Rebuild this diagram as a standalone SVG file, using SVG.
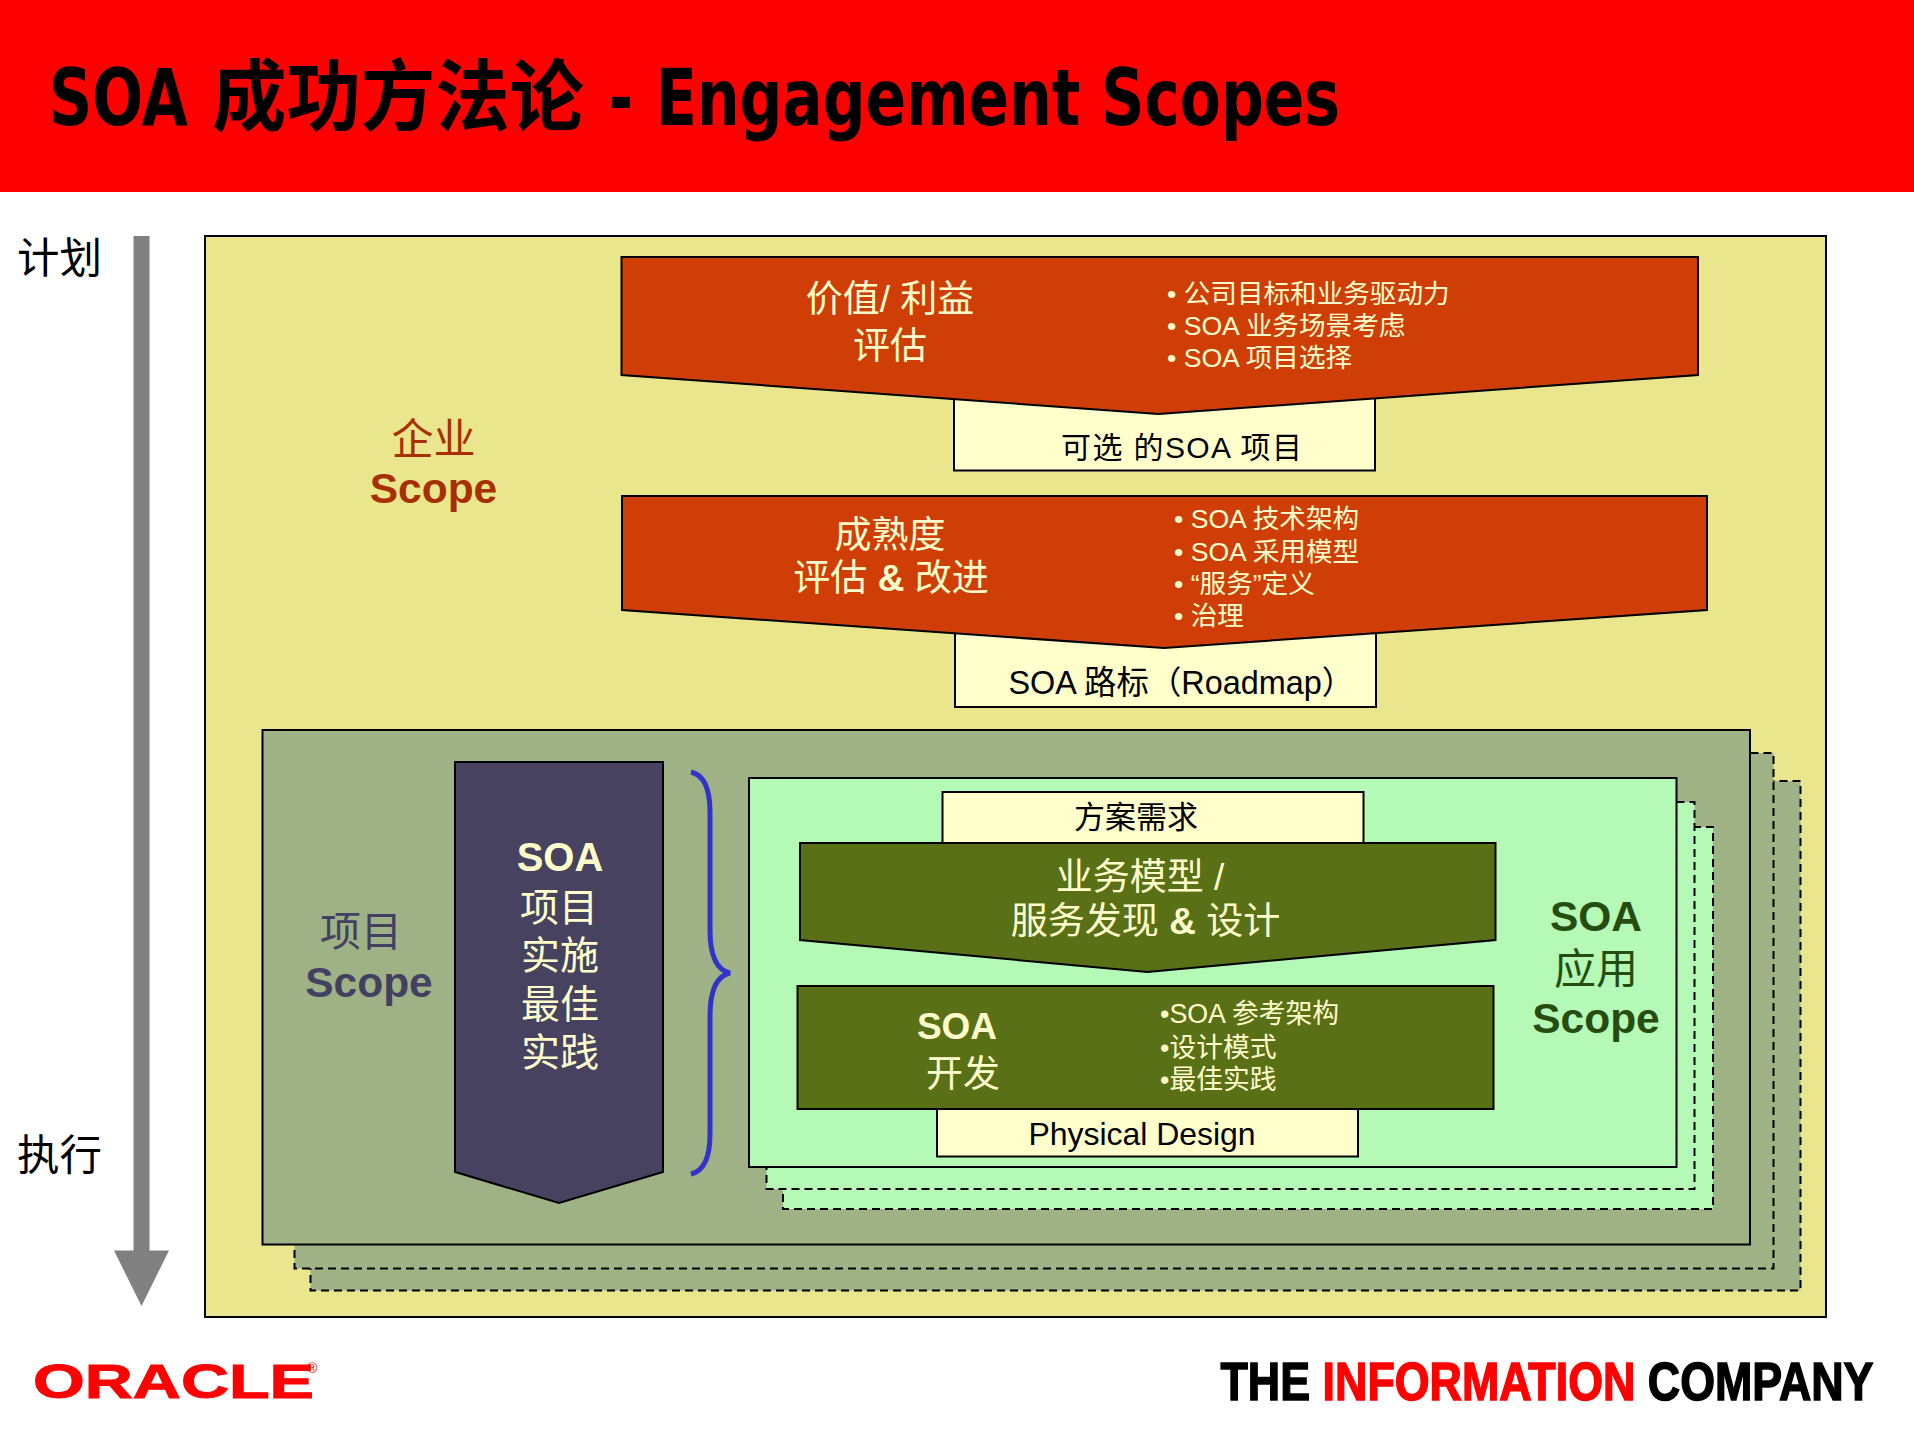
<svg xmlns="http://www.w3.org/2000/svg" width="1914" height="1431" viewBox="0 0 1914 1431">
<style>
text{font-family:"Liberation Sans","Noto Sans CJK SC",sans-serif;white-space:pre}
.s{stroke:#000;stroke-width:2;stroke-linejoin:miter}
.d{stroke:#000;stroke-width:2;stroke-dasharray:8 5}
.c{text-anchor:middle}
.b{font-weight:bold}
.ye{fill:#e9e68d}.or{fill:#d03e08}.pale{fill:#ffffcc}.gr{fill:#9eb285}.lg{fill:#b4f9b6}.nv{fill:#464260}.ol{fill:#5a7017}
.tp{fill:#ffffcc}
.tb{fill:#000}
</style>
<rect id="title-band" x="0" y="0" width="1914" height="192" fill="#ff0000"/>
<g id="title"><text y="125" font-size="78" font-weight="bold" style="font-family:'DejaVu Sans','Noto Sans CJK SC',sans-serif"><tspan x="49" textLength="139" lengthAdjust="spacingAndGlyphs">SOA</tspan> <tspan x="212" textLength="372" lengthAdjust="spacingAndGlyphs">成功方法论</tspan> <tspan x="609" textLength="24" lengthAdjust="spacingAndGlyphs">-</tspan> <tspan x="656" textLength="684" lengthAdjust="spacingAndGlyphs">Engagement Scopes</tspan></text></g>

<g id="axis">
<path d="M133.500 236H149.500V1250.500H169L141.500 1306L114 1250.500H133.500Z" fill="#808080"/>
<text x="17" y="273" font-size="42.500">计划</text>
<text x="17" y="1170" font-size="42.500">执行</text>
</g>

<g id="enterprise-scope">
<rect x="205" y="236" width="1621" height="1081" class="ye s"/>
<text x="433.500" y="454" font-size="42" class="c" fill="#a83000">企业</text>
<text x="433.500" y="503" font-size="42.500" class="c b" fill="#a83000">Scope</text>
</g>

<g id="optional-projects">
<rect x="954" y="380" width="421" height="90.500" class="pale s"/>
<text x="1061" y="458" font-size="30" textLength="241" class="tb">可选 的SOA 项目</text>
</g>
<g id="value-assessment">
<path d="M621.500 257H1698V375L1158.500 414L621.500 375Z" class="or s"/>
<text x="890" y="312" font-size="37" class="c tp">价值/ 利益</text>
<text x="890" y="359" font-size="37" class="c tp">评估</text>
<text x="1167" y="303" font-size="26.600" class="tp">• 公司目标和业务驱动力</text>
<text x="1167" y="335" font-size="26.600" class="tp">• SOA 业务场景考虑</text>
<text x="1167" y="367" font-size="26.600" class="tp">• SOA 项目选择</text>
</g>

<g id="roadmap">
<rect x="955" y="620" width="421" height="87" class="pale s"/>
<text x="1008.500" y="694" font-size="32.400" class="tb">SOA 路标（Roadmap）</text>
</g>
<g id="maturity-assessment">
<path d="M622 496H1707V610L1164 648L622 610Z" class="or s"/>
<text x="890" y="548" font-size="37" class="c tp">成熟度</text>
<text x="891" y="591" font-size="37" class="c tp">评估 <tspan class="b">&amp;</tspan> 改进</text>
<text x="1174" y="528" font-size="26.600" class="tp">• SOA 技术架构</text>
<text x="1174" y="561" font-size="26.600" class="tp">• SOA 采用模型</text>
<text x="1174" y="593" font-size="26.600" class="tp">• “服务”定义</text>
<text x="1174" y="625" font-size="26.600" class="tp">• 治理</text>
</g>

<g id="project-scope">
<path d="M310.500 781H1800.500V1290.500H310.500Z" class="gr d"/>
<path d="M294.500 753H1773.500V1268.500H294.500Z" class="gr d"/>
<rect x="262.500" y="730" width="1487.500" height="514.500" class="gr s"/>
<text x="361" y="946" font-size="41" class="c" fill="#444062">项目</text>
<text x="369" y="997" font-size="42.500" class="c b" fill="#444062">Scope</text>
</g>

<g id="best-practices">
<path d="M455 762H663V1172L559 1203L455 1172Z" class="nv s"/>
<text x="560" y="871" font-size="40" class="c b tp">SOA</text>
<text x="559" y="921" font-size="39" class="c tp">项目</text>
<text x="560" y="969" font-size="39" class="c tp">实施</text>
<text x="560" y="1018" font-size="39" class="c tp">最佳</text>
<text x="560" y="1066" font-size="39" class="c tp">实践</text>
</g>

<g id="connectors">
<path d="M691 772C704 775 710 788 710 812V930C710 955 716 970 730 973C716 976 710 991 710 1016V1134C710 1158 704 1171 691 1174" fill="none" stroke="#3333cc" stroke-width="5"/>
</g>

<g id="application-scope">
<path d="M783 827H1713V1209H783Z" class="lg d"/>
<path d="M766.500 802H1694.500V1189H766.500Z" class="lg d"/>
<rect x="749" y="778" width="927.500" height="389" class="lg s"/>
<text x="1596" y="931" font-size="42.500" class="c b" fill="#264d0f">SOA</text>
<text x="1596" y="984" font-size="42" class="c" fill="#264d0f">应用</text>
<text x="1596" y="1032.500" font-size="42.500" class="c b" fill="#264d0f">Scope</text>
</g>

<g id="solution-requirements">
<rect x="942.500" y="792" width="421" height="60" class="pale s"/>
<text x="1136" y="828" font-size="31" class="c tb">方案需求</text>
</g>
<g id="business-modeling">
<path d="M800 843H1495.500V940L1147.500 972L800 940Z" class="ol s"/>
<text x="1140" y="890" font-size="37" class="c tp">业务模型 /</text>
<text x="1145.500" y="934" font-size="37" class="c tp">服务发现 <tspan class="b">&amp;</tspan> 设计</text>
</g>
<g id="physical-design">
<rect x="937" y="1100" width="421" height="56.500" class="pale s"/>
<text x="1028.500" y="1145" font-size="32" textLength="227" class="tb">Physical Design</text>
</g>
<g id="soa-development">
<rect x="797.500" y="986" width="696" height="123" class="ol s"/>
<text x="957" y="1039" font-size="37" class="c b tp">SOA</text>
<text x="963" y="1087" font-size="37" class="c tp">开发</text>
<text x="1160" y="1023" font-size="26.800" class="tp">•SOA 参考架构</text>
<text x="1160" y="1056.500" font-size="26.800" class="tp">•设计模式</text>
<text x="1160" y="1089" font-size="26.800" class="tp">•最佳实践</text>
</g>

<g id="oracle-logo">
<text x="33" y="1398" font-size="49" font-weight="bold" fill="#ff0000" stroke="#ff0000" stroke-width="1" textLength="281" lengthAdjust="spacingAndGlyphs">ORACLE</text>
<text x="307" y="1373" font-size="14" fill="#ff0000">®</text>
</g>
<g id="tagline">
<text transform="translate(1220.500 1400) scale(.83 1)" font-size="54" font-weight="bold" stroke="#000" stroke-width="1.500">THE <tspan fill="#ff0000" stroke="#ff0000">INFORMATION</tspan> COMPANY</text>
</g>
</svg>
